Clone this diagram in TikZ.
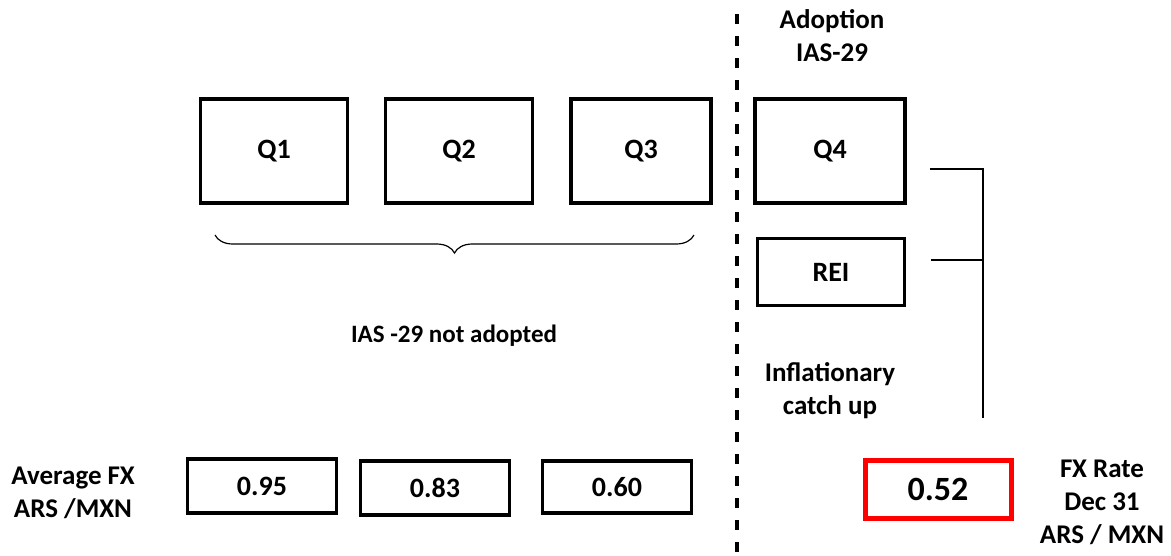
\documentclass[tikz,border=0pt]{standalone}
\usepackage{fontspec}
\setmainfont{Carlito}
\usetikzlibrary{decorations.pathreplacing}
\begin{document}
\begin{tikzpicture}[x=1pt,y=-1pt,
  qbox/.style={draw=black,line width=3.5pt,inner sep=0pt},
  lbl/.style={font=\bfseries\fontsize{27}{33}\selectfont,align=center},
  boxtxt/.style={font=\bfseries\fontsize{28}{32}\selectfont},
  thin line/.style={line width=1.2pt}]
\useasboundingbox (0,0) rectangle (1171,555);
% top boxes
\node[qbox,minimum width=147pt,minimum height=104pt,boxtxt] (q1) at (274,151) {Q1};
\node[qbox,minimum width=147pt,minimum height=104pt,boxtxt] (q2) at (459,151) {Q2};
\node[qbox,minimum width=140pt,minimum height=104pt,boxtxt] (q3) at (641,151) {Q3};
\node[qbox,minimum width=150pt,minimum height=104pt,boxtxt] (q4) at (830,151) {Q4};
\node[qbox,minimum width=147pt,minimum height=67pt,boxtxt] (rei) at (831,272) {REI};
% bottom boxes
\node[qbox,minimum width=149pt,minimum height=54pt,boxtxt] (b1) at (262,486) {0.95};
\node[qbox,minimum width=149pt,minimum height=54pt,boxtxt] (b2) at (435,488) {0.83};
\node[qbox,minimum width=149pt,minimum height=52pt,boxtxt] (b3) at (617,487) {0.60};
\node[draw=red,line width=5pt,inner sep=0pt,minimum width=146pt,minimum height=58pt,font=\bfseries\fontsize{34}{40}\selectfont] (b4) at (938,489) {0.52};
% dashed divider
\coordinate (dtop) at (737,14);
\coordinate (dbot) at (737,555);
\draw[line width=3.5pt,dash pattern=on 10pt off 12pt] (dtop) -- (dbot);
% brace
\coordinate (bl) at (215,235);
\coordinate (br) at (694,235);
\draw[thin line,decorate,decoration={brace,mirror,amplitude=18pt,raise=0pt}] (bl) -- (br);
% right bracket
\coordinate (r1) at (930,169);
\coordinate (r2) at (931,260);
\coordinate (c1) at (983,169);
\coordinate (c2) at (983,260);
\coordinate (c3) at (983,418);
\draw[thin line] (r1) -- (c1) -- (c3);
\draw[thin line] (r2) -- (c2);
% labels
\node[lbl] (adopt) at (832,36) {Adoption\\IAS-29};
\node[lbl,font=\bfseries\fontsize{25}{30}\selectfont] (notad) at (454,336) {IAS -29 not adopted};
\node[lbl] (infl) at (830,391) {Inflationary\\catch up};
\node[lbl] (avg) at (73,493) {Average FX\\ARS /MXN};
\node[lbl] (fxr) at (1102,502) {FX Rate\\Dec 31\\ARS / MXN};
\end{tikzpicture}
\end{document}
